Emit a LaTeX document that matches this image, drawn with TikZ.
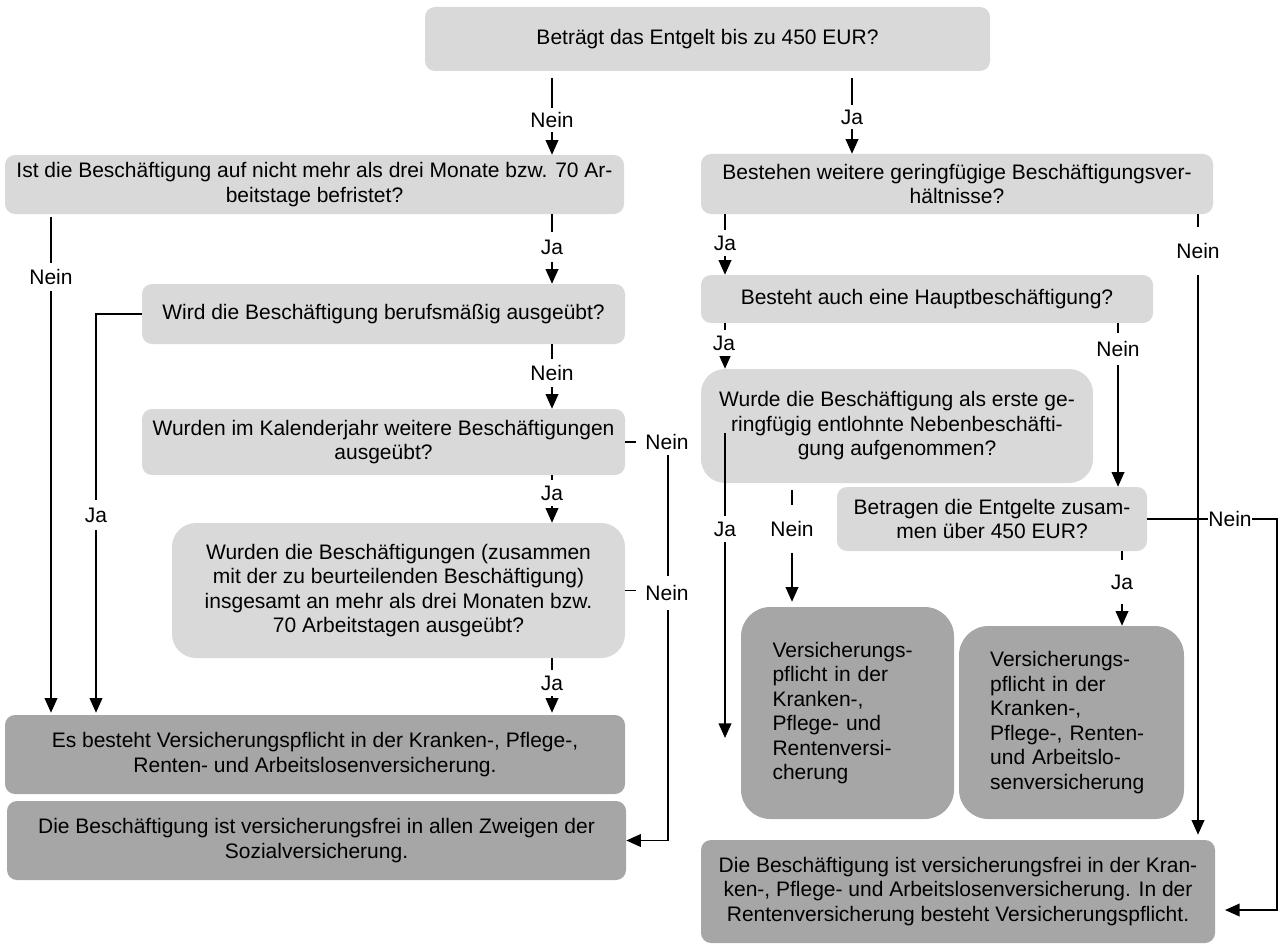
\documentclass[tikz,border=0pt]{standalone}
\usepackage{fontspec}
\setmainfont{Liberation Sans}
\usetikzlibrary{arrows.meta}
\definecolor{lg}{HTML}{D9D9D9}
\definecolor{dg}{HTML}{A6A6A6}
\newcommand{\fs}{\fontsize{15.75pt}{18.4pt}\selectfont}
\begin{document}
\begin{tikzpicture}[x=0.75pt,y=-0.75pt,
  box/.style={rounded corners=7.5pt, fill=lg, align=center, inner sep=0pt, font=\fs},
  res/.style={box, fill=dg},
  sz/.style 2 args={minimum width=#1*0.75pt, minimum height=#2*0.75pt},
  conn/.style={draw=black, line width=1.3pt},
  arr/.style={conn, -{Triangle[length=11pt,width=9.5pt]}},
  lab/.style={fill=white, inner xsep=1.5pt, inner ysep=4pt, font=\fs},
  labbig/.style={lab, inner ysep=12pt}
]
\useasboundingbox (0,0) rectangle (1280,945);

% boxes
\node[box, sz={565}{64}] (top) at (707.5,39) {Beträgt das Entgelt bis zu 450 EUR?};
\node[box, sz={619}{59}] (q1) at (314.5,184.5) {Ist die Beschäftigung auf nicht mehr als drei Monate bzw. 70 Ar-\\beitstage befristet?};
\node[box, sz={512}{60}] (q2) at (957,184) {Bestehen weitere geringfügige Beschäftigungsver-\\hältnisse?};
\node[box, sz={483}{60}] (q3) at (383.5,314) {Wird die Beschäftigung berufsmäßig ausgeübt?};
\node[box, sz={483}{66}] (q4) at (383.5,442) {Wurden im Kalenderjahr weitere Beschäftigungen\\ausgeübt?};
\node[box, sz={453}{135}, rounded corners=18pt] (q5) at (398.5,590.5) {Wurden die Beschäftigungen (zusammen\\mit der zu beurteilenden Beschäftigung)\\insgesamt an mehr als drei Monaten bzw.\\70 Arbeitstagen ausgeübt?};
\node[res, sz={620}{79}] (r1) at (315,754.5) {Es besteht Versicherungspflicht in der Kranken-, Pflege-,\\Renten- und Arbeitslosenversicherung.};
\node[res, sz={619}{79}] (r2) at (316.5,840.5) {Die Beschäftigung ist versicherungsfrei in allen Zweigen der\\Sozialversicherung.};
\node[box, sz={452}{48}] (q6) at (927,299) {Besteht auch eine Hauptbeschäftigung?};
\node[box, sz={392}{114}, rounded corners=18pt] (q7) at (897,426) {Wurde die Beschäftigung als erste ge-\\ringfügig entlohnte Nebenbeschäfti-\\gung aufgenommen?};
\node[box, sz={310}{64}] (q8) at (992,519) {Betragen die Entgelte zusam-\\men über 450 EUR?};
\node[res, sz={213}{212}, rounded corners=22pt, align=left, text width=112.5pt] (r3) at (847.5,713) {Versicherungs-\\pflicht in der\\Kranken-,\\Pflege- und\\Rentenversi-\\cherung};
\node[res, sz={225}{193}, rounded corners=22pt, align=left, text width=122pt] (r4) at (1071.5,722.5) {Versicherungs-\\pflicht in der\\Kranken-,\\Pflege-, Renten-\\und Arbeitslo-\\senversicherung};
\node[res, sz={514}{103}] (r5) at (958,891.5) {Die Beschäftigung ist versicherungsfrei in der Kran-\\ken-, Pflege- und Arbeitslosenversicherung. In der\\Rentenversicherung besteht Versicherungspflicht.};

% column coordinates
\coordinate (cxA) at (552,0);
\coordinate (cxB) at (852,0);
\coordinate (cxL) at (51,0);
\coordinate (cxJ) at (96,0);
\coordinate (cxN) at (668,0);
\coordinate (cxC) at (725,0);
\coordinate (cxD) at (1198,0);
\coordinate (cxE) at (1118,0);
\coordinate (cxF) at (792,0);
\coordinate (cxG) at (1122,0);
\coordinate (cxH) at (1277,0);
\coordinate (j1) at (725,433);
\coordinate (j2) at (725,738);
\coordinate (r5in) at (1215,910);

% connectors
\draw[arr, shorten <=5.25pt] (top.south -| cxA) -- (q1.north -| cxA);
\draw[arr, shorten <=5.25pt] (top.south -| cxB) -- (q2.north -| cxB);
\draw[arr, shorten <=2pt, shorten >=1.5pt] (q1.south -| cxL) -- (r1.north -| cxL);
\draw[arr] (q1.south -| cxA) -- (q3.north -| cxA);
\draw[arr, shorten >=1.5pt] (q3.west) -| (r1.north -| cxJ);
\draw[arr] (q3.south -| cxA) -- (q4.north -| cxA);
\draw[arr] (q4.east) -| (cxN |- r2.east) -- (r2.east);
\draw[conn] (q5.east) -- (q5.east -| cxN);
\draw[arr] (q4.south -| cxA) -- (q5.north -| cxA);
\draw[arr, shorten >=1.5pt] (q5.south -| cxA) -- (r1.north -| cxA);
\draw[arr] (q2.south -| cxC) -- (q6.north -| cxC);
\draw[arr, shorten >=3.75pt] (q2.south -| cxD) -- (r5.north -| cxD);
\draw[arr] (q6.south -| cxC) -- (q7.north -| cxC);
\draw[arr] (q6.south -| cxE) -- (q8.north -| cxE);
\draw[arr] (j1) -- (j2);
\draw[arr, shorten <=5.25pt, shorten >=3.75pt] (q7.south -| cxF) -- (r3.north -| cxF);
\draw[arr] (q8.south -| cxG) -- (r4.north -| cxG);
\draw[arr, shorten >=7.5pt] (q8.east) -- (q8.east -| cxH) -- (cxH |- r5in) -- (r5in);

% labels
\node[lab, inner ysep=3.4pt] (l1) at (552,120) {Nein};
\node[lab, inner ysep=3.4pt] (l2) at (852,117) {Ja};
\node[lab, inner ysep=4.5pt] (l3) at (51,277) {Nein};
\node[lab, inner ysep=5.5pt] (l4) at (552,247) {Ja};
\node[lab, inner ysep=5.5pt] (l5) at (96,515) {Ja};
\node[lab, inner ysep=5pt] (l6) at (552,373) {Nein};
\node[lab, inner xsep=7pt] (l7) at (667,442) {Nein};
\node[lab, inner xsep=7pt, inner ysep=7pt] (l8) at (667,593) {Nein};
\node[lab] (l9) at (552,493) {Ja};
\node[lab] (l10) at (552,683) {Ja};
\node[lab] (l11) at (725,243) {Ja};
\node[labbig] (l12) at (1198,251) {Nein};
\node[lab] (l13) at (724,343) {Ja};
\node[lab, inner ysep=6pt] (l14) at (1118,349) {Nein};
\node[lab] (l15) at (725,529) {Ja};
\node[labbig] (l16) at (792,529) {Nein};
\node[labbig, inner ysep=11pt] (l17) at (1122,582) {Ja};
\node[lab, inner xsep=0.5pt] (l18) at (1230,519) {Nein};
\end{tikzpicture}
\end{document}
